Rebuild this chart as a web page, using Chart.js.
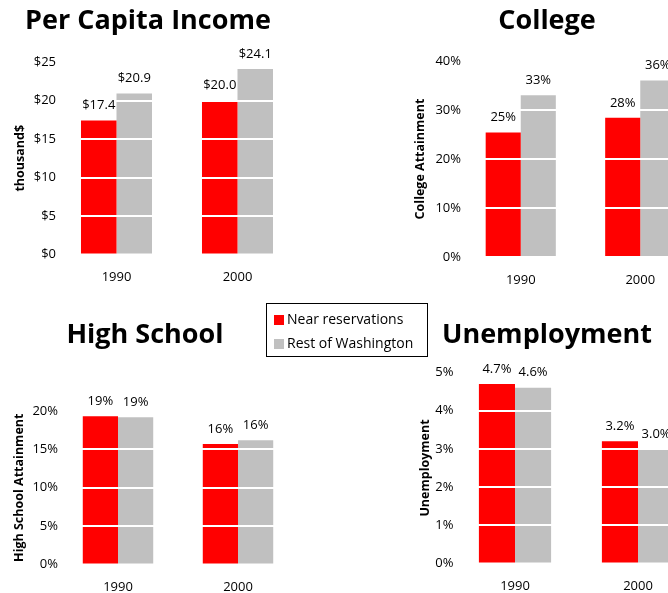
<!DOCTYPE html>
<html>
<head>
<meta charset="utf-8">
<script src="https://cdn.jsdelivr.net/npm/chart.js@4.4.1/dist/chart.umd.min.js"></script>
<style>
  html, body { margin: 0; padding: 0; background: #fff; overflow: hidden; }
  body { width: 668px; height: 593px; position: relative; font-family: "Open Sans", sans-serif; }
  canvas { position: absolute; left: 0; top: 0; }
  .title { position: absolute; width: 300px; text-align: center; font-size: 27px; font-weight: bold; line-height: 27px; color: #000; white-space: nowrap; }
  #legend { position: absolute; left: 266px; top: 303px; width: 160px; height: 52px; border: 1px solid #000; background: #fff; }
  #legend div { position: absolute; left: 7px; font-size: 14px; line-height: 14px; white-space: nowrap; }
  #legend span { display: inline-block; width: 10px; height: 10px; margin-right: 3px; vertical-align: -1px; }
</style>
</head>
<body>
<canvas id="income" width="720" height="593"></canvas>
<canvas id="college" width="720" height="593"></canvas>
<canvas id="highSchool" width="720" height="593"></canvas>
<canvas id="unemployment" width="720" height="593"></canvas>

<div class="title" style="left:-2px; top:5px;">Per Capita Income</div>
<div class="title" style="left:397px; top:5px;">College</div>
<div class="title" style="left:-5px; top:319px;">High School</div>
<div class="title" style="left:397px; top:319px;">Unemployment</div>
<div id="legend"></div>

<script>
// data
const years = ['1990', '2000'];
const seriesNames = ['Near reservations', 'Rest of Washington'];
const seriesColors = ['#ff0000', '#c0c0c0'];

const incomeNear = [17.4, 20.0];
const incomeRest = [20.9, 24.1];
const collegeNear = [25.4, 28.4];
const collegeRest = [33.0, 36.0];
const highSchoolNear = [19.3, 15.7];
const highSchoolRest = [19.2, 16.2];
const unemploymentNear = [4.7, 3.2];
const unemploymentRest = [4.6, 3.0];

const incomeAxis = { max: 25, step: 5 };
const collegeAxis = { max: 40, step: 10 };
const highSchoolAxis = { max: 20, step: 5 };
const unemploymentAxis = { max: 5, step: 1 };

const CW = 720, CH = 593, X_AXIS_H = 40;

Chart.defaults.color = '#000';
Chart.defaults.font.family = '"Open Sans", sans-serif';

// value above every bar
const valueLabels = {
    id: 'valueLabels',
    afterDraw(chart, args, opts) {
        const ctx = chart.ctx;
        ctx.save();
        ctx.font = '13px "Open Sans", sans-serif';
        ctx.fillStyle = '#000';
        ctx.textAlign = 'center';
        ctx.textBaseline = 'middle';
        chart.data.datasets.forEach((ds, di) => {
            chart.getDatasetMeta(di).data.forEach((bar, i) => {
                ctx.fillText(opts.format(ds.data[i]), bar.x, bar.y - 15);
            });
        });
        ctx.restore();
    }
};

function makeChart(id, near, rest, axis, box, titleText, tickFmt, labelFmt) {
    return new Chart(document.getElementById(id), {
        type: 'bar',
        data: {
            labels: years,
            datasets: [
                { label: seriesNames[0], data: near, backgroundColor: seriesColors[0] },
                { label: seriesNames[1], data: rest, backgroundColor: seriesColors[1] }
            ]
        },
        options: {
            responsive: false,
            animation: false,
            layout: {
                padding: { left: box.pl, top: box.top, right: CW - box.right, bottom: CH - box.bottom - X_AXIS_H }
            },
            datasets: { bar: { categoryPercentage: 0.587, barPercentage: 1, borderWidth: 0 } },
            plugins: {
                legend: { display: false },
                tooltip: { enabled: false },
                valueLabels: { format: labelFmt }
            },
            scales: {
                x: {
                    grid: { display: false },
                    border: { display: false },
                    ticks: { font: { size: 13 }, padding: 7 },
                    afterFit: (s) => { s.height = X_AXIS_H; }
                },
                y: {
                    min: 0,
                    max: axis.max,
                    grid: { color: '#fff', lineWidth: 2, drawTicks: false, z: 1 },
                    border: { display: false },
                    ticks: { stepSize: axis.step, padding: 0, font: { size: 13 }, callback: tickFmt },
                    title: {
                        display: true,
                        text: titleText,
                        font: { size: 12.5, weight: 'bold' },
                        padding: { top: 0, bottom: 0 }
                    },
                    afterFit: (s) => { s.width = box.left - box.pl; }
                }
            }
        },
        plugins: [valueLabels]
    });
}

const dollars = (v) => '$' + v;
const pct = (v) => v + '%';

makeChart('income', incomeNear, incomeRest, incomeAxis,
    { pl: 13, left: 56, right: 298, top: 62, bottom: 254.5 },
    'thousand$', dollars, (v) => '$' + v.toFixed(1));

makeChart('college', collegeNear, collegeRest, collegeAxis,
    { pl: 413, left: 461, right: 700, top: 61, bottom: 257 },
    'College Attainment', pct, (v) => Math.round(v) + '%');

makeChart('highSchool', highSchoolNear, highSchoolRest, highSchoolAxis,
    { pl: 12, left: 58, right: 298, top: 411, bottom: 564.5 },
    'High School Attainment', pct, (v) => Math.round(v) + '%');

makeChart('unemployment', unemploymentNear, unemploymentRest, unemploymentAxis,
    { pl: 418, left: 453.5, right: 699.5, top: 372.5, bottom: 563.5 },
    'Unemployment', pct, (v) => v.toFixed(1) + '%');

// shared legend
const legend = document.getElementById('legend');
seriesNames.forEach((name, i) => {
    const row = document.createElement('div');
    row.style.top = (8 + i * 24) + 'px';
    row.innerHTML = '<span style="background:' + seriesColors[i] + '"></span>' + name;
    legend.appendChild(row);
});
</script>
</body>
</html>
